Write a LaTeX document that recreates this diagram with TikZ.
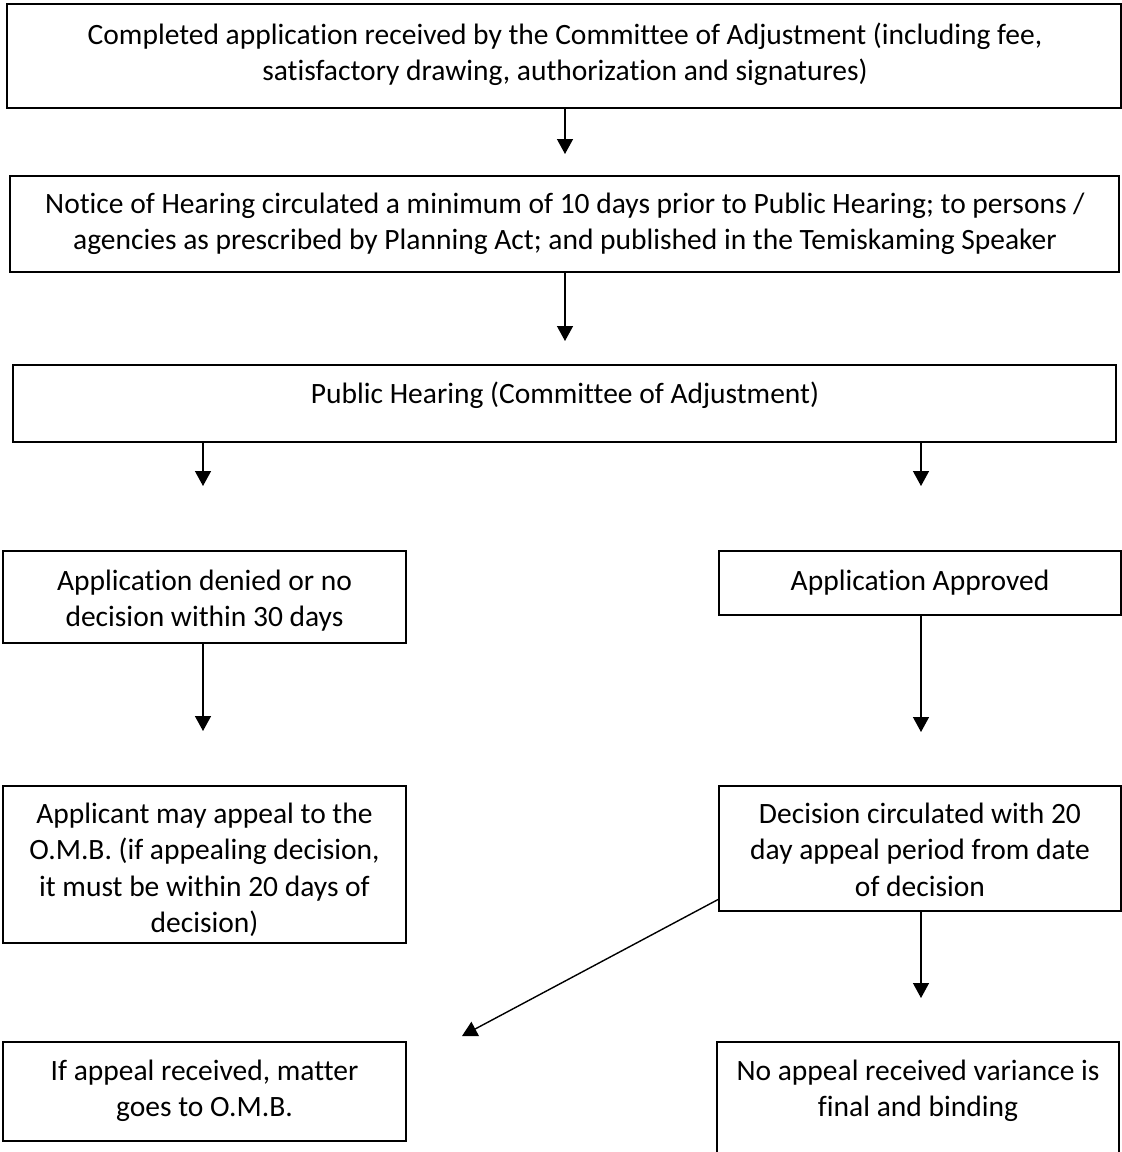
\documentclass[tikz,border=0pt]{standalone}
\usepackage{fontspec}
\setmainfont{Carlito}[Ligatures={NoCommon}]
\usetikzlibrary{arrows.meta,calc}
\tikzset{
  box/.style={draw=black, line width=1.4pt, inner sep=0pt, outer sep=0pt, anchor=north west},
  txt/.style={anchor=base, inner sep=0pt, outer sep=0pt, font=\fontsize{29.5}{36.5}\selectfont},
  arr/.style={line width=1.4pt, -{Triangle[length=15pt,width=16pt]}},
}
\newcommand{\boxtext}[2]{\parbox[t]{#1}{\centering #2}}
\begin{document}
\begin{tikzpicture}[x=1pt,y=-1pt]
\useasboundingbox (0,0) rectangle (1122,1152);
% boxes
\node[box, minimum width=1114pt, minimum height=104pt] (b1) at (7,4) {};
\node[box, minimum width=1109pt, minimum height=96pt] (b2) at (10,176) {};
\node[box, minimum width=1103pt, minimum height=77pt] (b3) at (13,365) {};
\node[box, minimum width=403pt, minimum height=92pt] (b4) at (3,551) {};
\node[box, minimum width=402pt, minimum height=64pt] (b5) at (719,551) {};
\node[box, minimum width=403pt, minimum height=157pt] (b6) at (3,786) {};
\node[box, minimum width=402pt, minimum height=125pt] (b7) at (719,786) {};
\node[box, minimum width=403pt, minimum height=99pt] (b8) at (3,1042) {};
\node[box, minimum width=402pt, minimum height=128pt] (b9) at (717,1042) {};
% texts
\node[txt] (t1) at (565,44) {\boxtext{1100pt}{Completed application received by the Committee of Adjustment (including fee,\\ satisfactory drawing, authorization and signatures)}};
\node[txt] (t2) at (565,213) {\boxtext{1100pt}{Notice of Hearing circulated a minimum of 10 days prior to Public Hearing; to persons /\\ agencies as prescribed by Planning Act; and published in the Temiskaming Speaker}};
\node[txt] (t3) at (565,403) {\boxtext{1100pt}{Public Hearing (Committee of Adjustment)}};
\node[txt] (t4) at (204.5,590) {\boxtext{395pt}{Application denied or no\\ decision within 30 days}};
\node[txt] (t5) at (920,590) {\boxtext{395pt}{Application Approved}};
\node[txt] (t6) at (204.5,823) {\boxtext{395pt}{Applicant may appeal to the\\ O.M.B. (if appealing decision,\\ it must be within 20 days of\\ decision)}};
\node[txt] (t7) at (920,823) {\boxtext{395pt}{Decision circulated with 20\\ day appeal period from date\\ of decision}};
\node[txt] (t8) at (204.5,1080) {\boxtext{395pt}{If appeal received, matter\\ goes to O.M.B.}};
\node[txt] (t9) at (918,1080) {\boxtext{395pt}{No appeal received variance is\\ final and binding}};
% free arrow ends
\coordinate (e1) at (565,154);
\coordinate (e2) at (565,341);
\coordinate (e3) at (203,486);
\coordinate (e4) at (921,486);
\coordinate (e5) at (203,731);
\coordinate (e6) at (921,732);
\coordinate (e7) at (921,998);
\coordinate (e8) at (462,1036);
% connectors
\draw[arr] (b1.south -| e1) -- (e1);
\draw[arr] (b2.south -| e2) -- (e2);
\draw[arr] (b3.south -| e3) -- (e3);
\draw[arr] (b3.south -| e4) -- (e4);
\draw[arr] (b4.south -| e5) -- (e5);
\draw[arr] (b5.south -| e6) -- (e6);
\draw[arr] (b7.south -| e7) -- (e7);
\draw[arr] ($(b7.south west)+(0,-12)$) -- (e8);
\end{tikzpicture}
\end{document}
